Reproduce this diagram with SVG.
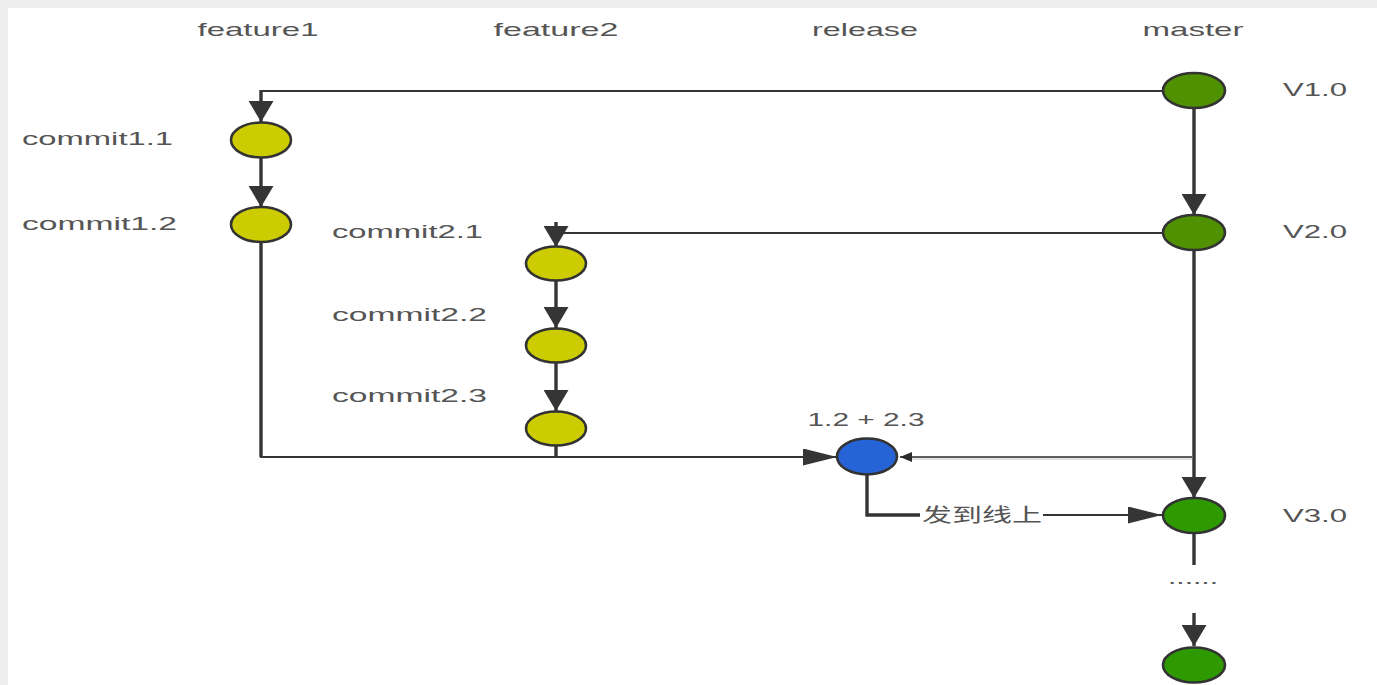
<svg xmlns="http://www.w3.org/2000/svg" width="1377" height="685" viewBox="0 0 1377 685">
<style>
.lbl{font-family:"Liberation Sans","DejaVu Sans",sans-serif;font-size:19px;fill:#555555}
.cjk{font-family:"Noto Sans CJK SC","Liberation Sans",sans-serif;font-size:19px;fill:#555555}
.v{stroke:#353535;stroke-width:3.4;fill:none}
.h{stroke:#353535;stroke-width:2.2;fill:none}
.thin{stroke:#2a2a2a;stroke-width:1.6;fill:none}
.node{stroke:#333;stroke-width:2.6}
.yel{fill:#cccc00}
.mg{fill:#4f9100}
.ng{fill:#2e9a00}
.blue{fill:#2563d6}
</style>
<defs>
<marker id="aV" markerUnits="userSpaceOnUse" viewBox="0 0 21 25" refX="21" refY="12.5" markerWidth="21" markerHeight="25" orient="auto"><path d="M0,0 L21,12.5 L0,25 Z" fill="#353535"/></marker>
<marker id="aH" markerUnits="userSpaceOnUse" viewBox="0 0 34 17" refX="34" refY="8.5" markerWidth="34" markerHeight="17" orient="auto"><path d="M0,0 L34,8.5 L0,17 Z" fill="#353535"/></marker>
<marker id="aS" markerUnits="userSpaceOnUse" viewBox="0 0 12 10" refX="12" refY="5" markerWidth="12" markerHeight="10" orient="auto"><path d="M0,0 L12,5 L0,10 Z" fill="#2a2a2a"/></marker>
</defs>
<rect x="0" y="0" width="1377" height="685" fill="#eeeeee"/>
<rect x="8" y="8" width="1369" height="677" fill="#ffffff"/>

<g id="headers">
<text class="lbl" x="258" y="36" text-anchor="middle" textLength="121" lengthAdjust="spacingAndGlyphs">feature1</text>
<text class="lbl" x="556" y="36" text-anchor="middle" textLength="125" lengthAdjust="spacingAndGlyphs">feature2</text>
<text class="lbl" x="865" y="36" text-anchor="middle" textLength="106" lengthAdjust="spacingAndGlyphs">release</text>
<text class="lbl" x="1193" y="36" text-anchor="middle" textLength="101" lengthAdjust="spacingAndGlyphs">master</text>
</g>

<g id="connectors">
<line class="h" x1="1164" y1="91" x2="260" y2="91"/>
<line class="v" x1="261" y1="90" x2="261" y2="122" marker-end="url(#aV)"/>
<line class="v" x1="261" y1="157" x2="261" y2="207" marker-end="url(#aV)"/>
<line class="v" x1="261" y1="242" x2="261" y2="457"/>
<line class="h" x1="260" y1="457" x2="837" y2="457" marker-end="url(#aH)"/>
<line class="v" x1="556" y1="445" x2="556" y2="457"/>
<line class="v" x1="1194" y1="108" x2="1194" y2="215" marker-end="url(#aV)"/>
<line class="h" x1="1164" y1="233" x2="556" y2="233"/>
<line class="v" x1="556" y1="222" x2="556" y2="247" marker-end="url(#aV)"/>
<line class="v" x1="556" y1="280" x2="556" y2="328" marker-end="url(#aV)"/>
<line class="v" x1="556" y1="363" x2="556" y2="411" marker-end="url(#aV)"/>
<line class="v" x1="1194" y1="250" x2="1194" y2="498" marker-end="url(#aV)"/>
<line x1="1192" y1="459" x2="912" y2="459" stroke="#e2e2e2" stroke-width="2"/>
<line class="thin" x1="1192" y1="457" x2="900" y2="457" marker-end="url(#aS)"/>
<polyline class="v" points="867,475 867,515 920,515"/>
<line class="h" x1="1043" y1="515" x2="1162" y2="515" marker-end="url(#aH)"/>
<line class="v" x1="1194" y1="533" x2="1194" y2="565"/>
<line class="v" x1="1194" y1="613" x2="1194" y2="646" marker-end="url(#aV)"/>
<text class="lbl" x="1193" y="584" text-anchor="middle" textLength="50" lengthAdjust="spacingAndGlyphs">......</text>
<text class="cjk" x="982" y="522" text-anchor="middle" textLength="120" lengthAdjust="spacingAndGlyphs">发到线上</text>
</g>

<g id="commit1.1"><ellipse class="node yel" cx="261" cy="140" rx="30" ry="17.5"/><text class="lbl" x="22" y="145" textLength="151" lengthAdjust="spacingAndGlyphs">commit1.1</text></g>
<g id="commit1.2"><ellipse class="node yel" cx="261" cy="224.5" rx="30" ry="17.5"/><text class="lbl" x="22" y="230" textLength="155" lengthAdjust="spacingAndGlyphs">commit1.2</text></g>
<g id="commit2.1"><ellipse class="node yel" cx="556" cy="263.5" rx="30" ry="17"/><text class="lbl" x="332" y="238" textLength="151" lengthAdjust="spacingAndGlyphs">commit2.1</text></g>
<g id="commit2.2"><ellipse class="node yel" cx="556" cy="345.5" rx="30" ry="17"/><text class="lbl" x="332" y="321" textLength="155" lengthAdjust="spacingAndGlyphs">commit2.2</text></g>
<g id="commit2.3"><ellipse class="node yel" cx="556" cy="428.5" rx="30" ry="17"/><text class="lbl" x="332" y="402" textLength="155" lengthAdjust="spacingAndGlyphs">commit2.3</text></g>
<g id="release"><ellipse class="node blue" cx="867" cy="456.5" rx="30" ry="18"/><text class="lbl" x="866" y="426" text-anchor="middle" textLength="117" lengthAdjust="spacingAndGlyphs">1.2 + 2.3</text></g>
<g id="v1"><ellipse class="node mg" cx="1194" cy="90.5" rx="31" ry="17.5"/><text class="lbl" x="1283" y="96" textLength="64" lengthAdjust="spacingAndGlyphs">V1.0</text></g>
<g id="v2"><ellipse class="node mg" cx="1194" cy="232.5" rx="31" ry="17.5"/><text class="lbl" x="1283" y="238" textLength="64" lengthAdjust="spacingAndGlyphs">V2.0</text></g>
<g id="v3"><ellipse class="node ng" cx="1194" cy="515.5" rx="31" ry="17.5"/><text class="lbl" x="1283" y="522" textLength="64" lengthAdjust="spacingAndGlyphs">V3.0</text></g>
<g id="next"><ellipse class="node ng" cx="1194" cy="665" rx="31" ry="17.5"/></g>
</svg>
